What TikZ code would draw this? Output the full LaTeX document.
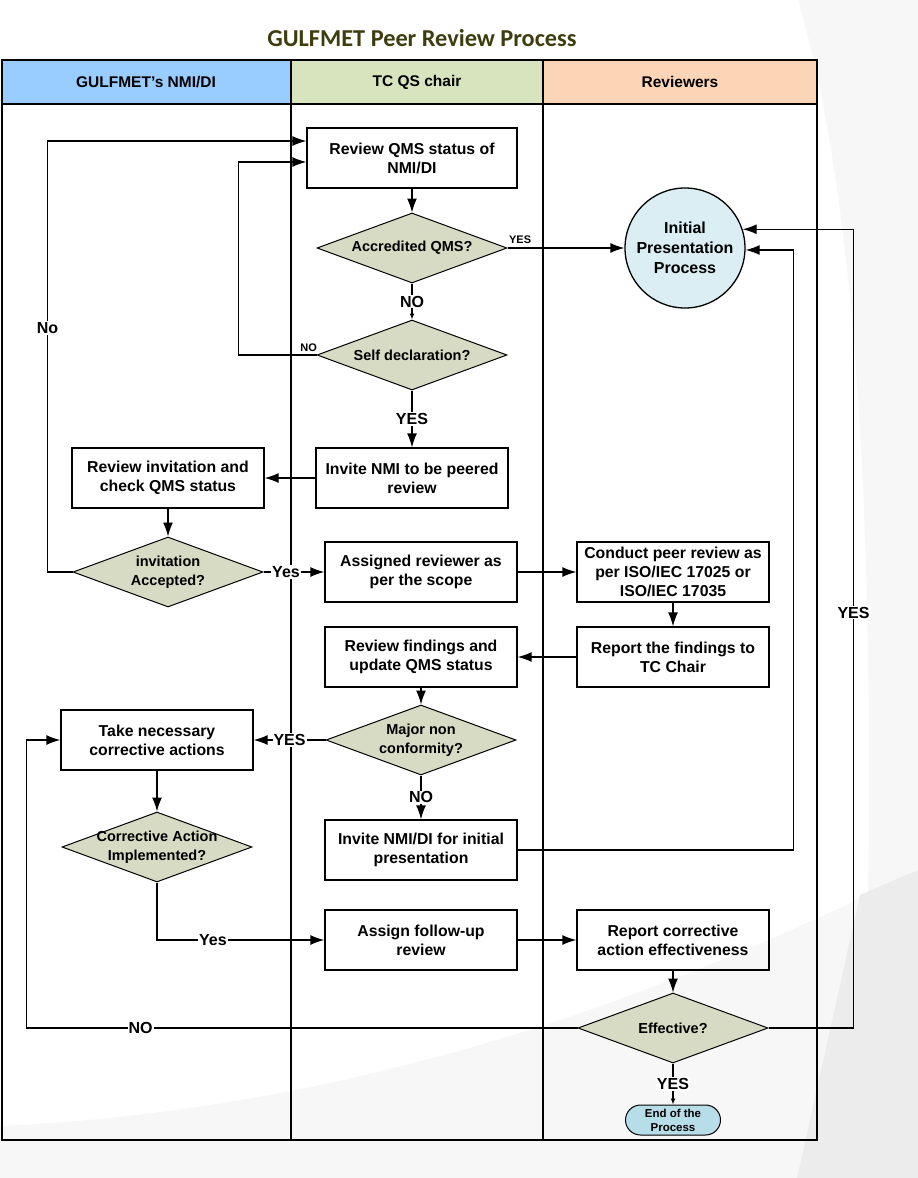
\documentclass[tikz,border=0pt]{standalone}
\usepackage{xcolor}
\usepackage{fontspec}
\setmainfont{Liberation Sans}
\newfontfamily\titlefont{Carlito}
\usepackage{tikz}
\usetikzlibrary{positioning,shapes,arrows.meta}

\definecolor{nmiblue}{HTML}{99CCFF}
\definecolor{tcgreen}{HTML}{D7E4BD}
\definecolor{revpeach}{HTML}{FBD5B5}
\definecolor{decfill}{HTML}{D7DBC4}
\definecolor{circfill}{HTML}{DAEEF3}
\definecolor{endfill}{HTML}{B7DDE8}
\definecolor{titleolive}{HTML}{3D3D0F}

\tikzset{
  procbox/.style={draw, rectangle, minimum width=192pt, minimum height=60pt, inner sep=2pt, align=center, font=\fontsize{15.8}{19}\selectfont\bfseries},
  decision/.style={draw, diamond, fill=decfill, line width=1pt, minimum width=190pt, minimum height=70pt, inner sep=0pt},
  dtext/.style={align=center, font=\fontsize{14.5}{19}\selectfont\bfseries},
  lbl/.style={fill=white, inner sep=1pt, font=\fontsize{16}{18}\selectfont\bfseries},
  smalllbl/.style={inner sep=1pt, font=\fontsize{11}{13}\selectfont\bfseries},
  lanehead/.style={font=\fontsize{15.5}{18}\selectfont\bfseries},
  smalltip/.style={-{Latex[length=6pt,width=5pt]}}
}

\begin{document}
\begin{tikzpicture}[x=1pt, y=-1pt, line width=1.3pt, >={Latex[length=14pt,width=10pt]}]
  \useasboundingbox (0,0) rectangle (918,1178);
  \fill[gray!6] (798,0) .. controls (848,170) and (874,450) .. (868,892) -- (797,1178) -- (918,1178) -- (918,0) -- cycle;
  \fill[gray!6] (0,1126) .. controls (300,1112) and (600,1030) .. (918,870) -- (918,1178) -- (0,1178) -- cycle;
  \fill[gray!15] (860,895) -- (918,870) -- (918,1178) -- (797,1178) -- cycle;

  \node[font=\titlefont\fontsize{24.3}{28}\selectfont\bfseries, text=titleolive] (title) at (422,38) {GULFMET Peer Review Process};

  \fill[nmiblue] (2,60) rectangle (291,104);
  \fill[tcgreen] (291,60) rectangle (543,104);
  \fill[revpeach] (543,60) rectangle (817,104);
  \draw (2,60) rectangle (817,1140);
  \draw (2,104) -- (817,104);
  \draw (291,60) -- (291,1140);
  \draw (543,60) -- (543,1140);
  \node[lanehead] (hnmi) at (146,82) {GULFMET's NMI/DI};
  \node[lanehead] (htc) at (417,82) {TC QS chair};
  \node[lanehead] (hrev) at (680,82) {Reviewers};

  \node[procbox, minimum width=210pt] (revqms) at (412,158) {Review QMS status of\\NMI/DI};
  \node[decision, below of=revqms, node distance=90pt, label={[dtext]center:Accredited QMS?}] (accr) {};
  \node[decision, below of=accr, node distance=107pt, label={[dtext]center:Self declaration?}] (selfdecl) {};
  \node[procbox, below of=selfdecl, node distance=123pt] (invite) {Invite NMI to be peered\\review};
  \node[procbox, left of=invite, node distance=244pt] (revinv) {Review invitation and\\check QMS status};
  \node[decision, below of=revinv, node distance=94pt, label={[dtext]center:{invitation\\Accepted?}}] (invacc) {};
  \node[procbox] (assign) at (421,572) {Assigned reviewer as\\per the scope};
  \node[procbox, right of=assign, node distance=252pt] (conduct) {Conduct peer review as\\per ISO/IEC 17025 or\\ISO/IEC 17035};
  \node[procbox, below of=conduct, node distance=85pt] (report) {Report the findings to\\TC Chair};
  \node[procbox, left of=report, node distance=252pt] (revfind) {Review findings and\\update QMS status};
  \node[decision, below of=revfind, node distance=83pt, label={[dtext]center:{Major non\\conformity?}}] (major) {};
  \node[procbox, left of=major, node distance=264pt] (takeact) {Take necessary\\corrective actions};
  \node[decision, below of=takeact, node distance=107pt, label={[dtext]center:{Corrective Action\\Implemented?}}] (corract) {};
  \node[procbox, below of=major, node distance=110pt] (invinit) {Invite NMI/DI for initial\\presentation};
  \node[procbox, below of=invinit, node distance=90pt] (assignfu) {Assign follow-up\\review};
  \node[procbox, right of=assignfu, node distance=252pt] (reportca) {Report corrective\\action effectiveness};
  \node[decision, below of=reportca, node distance=88pt, label={[dtext]center:Effective?}] (effective) {};
  \node[draw, rounded rectangle, fill=endfill, line width=1pt, minimum width=97pt, minimum height=30pt, inner sep=1pt, align=center, font=\fontsize{11.5}{14}\selectfont\bfseries, below of=effective, node distance=92pt] (endp) {End of the\\Process};
  \node[draw, circle, fill=circfill, minimum size=120pt, inner sep=0pt, align=center, font=\fontsize{16}{20}\selectfont\bfseries] (initpres) at (685,248) {Initial\\Presentation\\Process};

  \draw[->] (revqms) -- (accr);
  \draw[->] (accr.east) -- node[at start, above right, yshift=3pt, smalllbl]{YES} (initpres);
  \draw[smalltip] (accr) -- node[lbl]{NO} (selfdecl);
  \draw[->] (selfdecl.west) -- node[pos=.1, above, yshift=2pt, smalllbl]{NO} ++(-78,0) |- ([yshift=-4pt]revqms.west);
  \draw[->] (selfdecl) -- node[lbl]{YES} (invite);
  \draw[->] (invite) -- (revinv);
  \draw[->] (revinv) -- (invacc);
  \draw[->] (invacc.west) -- ++(-25,0) |- node[pos=.283, lbl]{No} ([yshift=17pt]revqms.west);
  \draw[->] (invacc) -- node[pos=.37, lbl]{Yes} (assign);
  \draw[->] (assign) -- (conduct);
  \draw[->] (conduct) -- (report);
  \draw[->] (report) -- (revfind);
  \draw[->] (revfind) -- (major);
  \draw[->] (major) -- node[lbl]{YES} (takeact);
  \draw[->] (takeact) -- (corract);
  \draw[->] (major) -- node[lbl]{NO} (invinit);
  \draw[->] (invinit.east) -- ++(276,0) |- ([yshift=-2pt]initpres.east);
  \draw[->] (corract.south) |- node[pos=.667, lbl]{Yes} (assignfu.west);
  \draw[->] (assignfu) -- (reportca);
  \draw[->] (reportca) -- (effective);
  \draw[smalltip] (effective) -- node[lbl]{YES} (endp);
  \draw[->] (effective.west) -- node[pos=.793, lbl]{NO} ++(-551,0) |- (takeact.west);
  \draw[->] (effective.east) -- ++(85,0) |- node[pos=.26, lbl]{YES} (initpres.18);
\end{tikzpicture}
\end{document}
